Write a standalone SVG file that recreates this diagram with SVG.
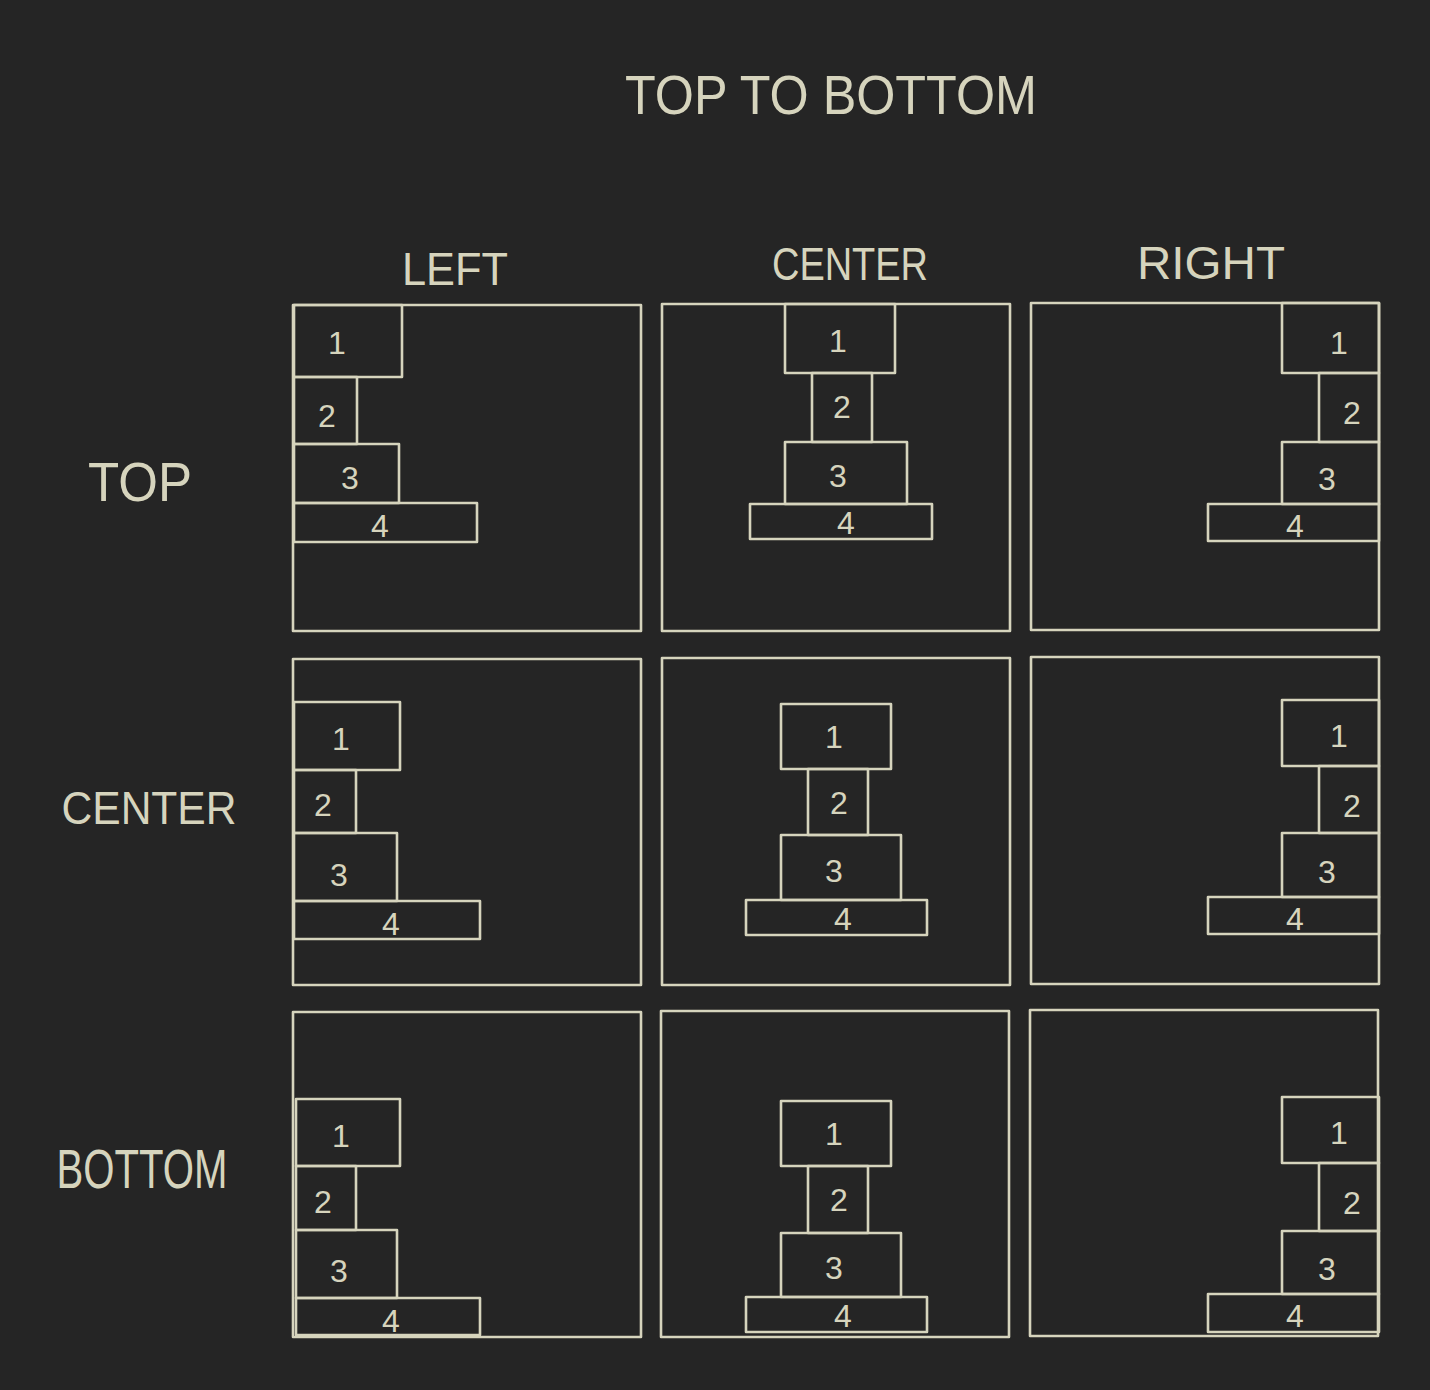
<svg xmlns="http://www.w3.org/2000/svg" width="1430" height="1390" viewBox="0 0 1430 1390">
<style>
.bg{fill:#252525}
.f{fill:none;stroke:#d6d4bd;stroke-width:2.6;stroke-linejoin:round}
.t{fill:#d6d4bd;font-family:"Liberation Sans","DejaVu Sans",sans-serif;font-weight:normal;text-anchor:middle}
.big{font-size:56px}
.hd{font-size:46px}
.n{font-size:32px}
</style>
<rect class="bg" x="0" y="0" width="1430" height="1390"/>
<g id="labels">
<text class="t big" x="831" y="114" textLength="412" lengthAdjust="spacingAndGlyphs">TOP TO BOTTOM</text>
<text class="t hd" x="455" y="285" textLength="106" lengthAdjust="spacingAndGlyphs">LEFT</text>
<text class="t hd" x="850" y="280" textLength="156" lengthAdjust="spacingAndGlyphs">CENTER</text>
<text class="t hd" x="1211" y="279" textLength="148" lengthAdjust="spacingAndGlyphs">RIGHT</text>
<text class="t big" x="140" y="501" textLength="104" lengthAdjust="spacingAndGlyphs">TOP</text>
<text class="t hd" x="149" y="824" textLength="175" lengthAdjust="spacingAndGlyphs">CENTER</text>
<text class="t big" x="142" y="1188" textLength="171" lengthAdjust="spacingAndGlyphs">BOTTOM</text>
</g>
<g id="top-left">
<rect class="f" x="293" y="305" width="348" height="326"/>
<rect class="f" x="294" y="305" width="108" height="72"/>
<rect class="f" x="294" y="377" width="63" height="67"/>
<rect class="f" x="294" y="444" width="105" height="59"/>
<rect class="f" x="294" y="503" width="183" height="39"/>
<text class="t n" x="337" y="354">1</text>
<text class="t n" x="327" y="427">2</text>
<text class="t n" x="350" y="489">3</text>
<text class="t n" x="380" y="537">4</text>
</g>
<g id="top-center">
<rect class="f" x="662" y="304" width="348" height="327"/>
<rect class="f" x="785" y="304" width="110" height="69"/>
<rect class="f" x="812" y="373" width="60" height="69"/>
<rect class="f" x="785" y="442" width="122" height="62"/>
<rect class="f" x="750" y="504" width="182" height="35"/>
<text class="t n" x="838" y="352">1</text>
<text class="t n" x="842" y="418">2</text>
<text class="t n" x="838" y="487">3</text>
<text class="t n" x="846" y="534">4</text>
</g>
<g id="top-right">
<rect class="f" x="1031" y="303" width="348" height="327"/>
<rect class="f" x="1282" y="303" width="97" height="70"/>
<rect class="f" x="1319" y="373" width="60" height="69"/>
<rect class="f" x="1282" y="442" width="97" height="62"/>
<rect class="f" x="1208" y="504" width="171" height="37"/>
<text class="t n" x="1339" y="354">1</text>
<text class="t n" x="1352" y="424">2</text>
<text class="t n" x="1327" y="490">3</text>
<text class="t n" x="1295" y="537">4</text>
</g>
<g id="center-left">
<rect class="f" x="293" y="659" width="348" height="326"/>
<rect class="f" x="294" y="702" width="106" height="68"/>
<rect class="f" x="294" y="770" width="62" height="63"/>
<rect class="f" x="294" y="833" width="103" height="68"/>
<rect class="f" x="294" y="901" width="186" height="38"/>
<text class="t n" x="341" y="750">1</text>
<text class="t n" x="323" y="816">2</text>
<text class="t n" x="339" y="886">3</text>
<text class="t n" x="391" y="935">4</text>
</g>
<g id="center-center">
<rect class="f" x="662" y="658" width="348" height="327"/>
<rect class="f" x="781" y="704" width="110" height="65"/>
<rect class="f" x="808" y="769" width="60" height="66"/>
<rect class="f" x="781" y="835" width="120" height="65"/>
<rect class="f" x="746" y="900" width="181" height="35"/>
<text class="t n" x="834" y="748">1</text>
<text class="t n" x="839" y="814">2</text>
<text class="t n" x="834" y="882">3</text>
<text class="t n" x="843" y="930">4</text>
</g>
<g id="center-right">
<rect class="f" x="1031" y="657" width="348" height="327"/>
<rect class="f" x="1282" y="700" width="97" height="66"/>
<rect class="f" x="1319" y="766" width="60" height="67"/>
<rect class="f" x="1282" y="833" width="97" height="64"/>
<rect class="f" x="1208" y="897" width="171" height="37"/>
<text class="t n" x="1339" y="747">1</text>
<text class="t n" x="1352" y="817">2</text>
<text class="t n" x="1327" y="883">3</text>
<text class="t n" x="1295" y="930">4</text>
</g>
<g id="bottom-left">
<rect class="f" x="293" y="1012" width="348" height="325"/>
<rect class="f" x="296" y="1099" width="104" height="67"/>
<rect class="f" x="296" y="1166" width="60" height="64"/>
<rect class="f" x="296" y="1230" width="101" height="68"/>
<rect class="f" x="296" y="1298" width="184" height="37"/>
<text class="t n" x="341" y="1147">1</text>
<text class="t n" x="323" y="1213">2</text>
<text class="t n" x="339" y="1282">3</text>
<text class="t n" x="391" y="1332">4</text>
</g>
<g id="bottom-center">
<rect class="f" x="661" y="1011" width="348" height="326"/>
<rect class="f" x="781" y="1101" width="110" height="65"/>
<rect class="f" x="808" y="1166" width="60" height="67"/>
<rect class="f" x="781" y="1233" width="120" height="64"/>
<rect class="f" x="746" y="1297" width="181" height="35"/>
<text class="t n" x="834" y="1145">1</text>
<text class="t n" x="839" y="1211">2</text>
<text class="t n" x="834" y="1279">3</text>
<text class="t n" x="843" y="1327">4</text>
</g>
<g id="bottom-right">
<rect class="f" x="1030" y="1010" width="348" height="326"/>
<rect class="f" x="1282" y="1097" width="97" height="66"/>
<rect class="f" x="1319" y="1163" width="60" height="68"/>
<rect class="f" x="1282" y="1231" width="97" height="63"/>
<rect class="f" x="1208" y="1294" width="171" height="38"/>
<text class="t n" x="1339" y="1144">1</text>
<text class="t n" x="1352" y="1214">2</text>
<text class="t n" x="1327" y="1280">3</text>
<text class="t n" x="1295" y="1327">4</text>
</g>
<g id="connectors"></g>
</svg>
